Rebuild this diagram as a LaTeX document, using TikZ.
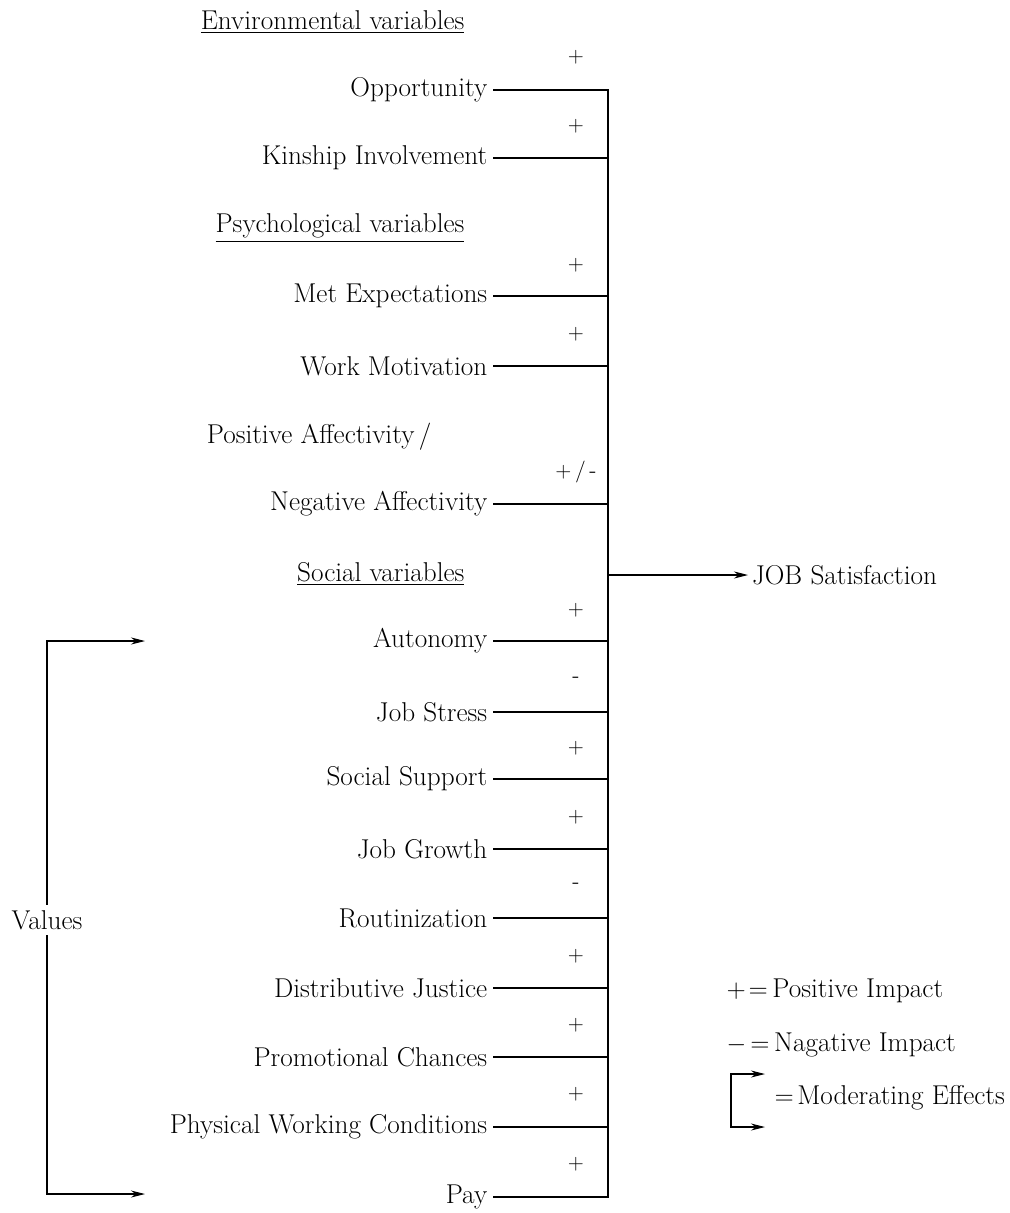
\documentclass[tikz,border=0pt]{standalone}
\usepackage{fontspec}
\usepackage{xcolor}
\usepackage{tikz}
\usetikzlibrary{arrows, arrows.meta}
\usetikzlibrary{positioning}
\tikzstyle{arrow} = [->,>={Stealth[length=8pt,width=4pt]}]
\tikzstyle{lbl} = [anchor=east, inner sep=3pt, font=\fontsize{15.5}{18}\selectfont]
\tikzstyle{head} = [anchor=east, inner sep=0pt, font=\fontsize{15.5}{18}\selectfont]
\tikzstyle{sign} = [inner sep=0pt, font=\fontsize{12.5}{14}\selectfont]

\begin{document}
\begin{tikzpicture}[x=0.02cm, y=-0.02cm, line width=0.6pt]
  \useasboundingbox (0,0) rectangle (1010,1213);
  % headings
  \node[head] (env) at (465,22) {\underline{Environmental variables}};
  \node[head] (psy) at (465,228) {\underline{Psychological variables}};
  \node[head] (soc) at (465,574) {\underline{Social variables}};
  % environmental
  \node[lbl] (opp) at (493,90) {Opportunity};
  \node[sign] (sopp) at (576,57) {$+$};
  \coordinate (jopp) at (608,90);
  \node[lbl] (kin) at (493,158) {Kinship Involvement};
  \node[sign] (skin) at (576,126) {$+$};
  \coordinate (jkin) at (608,158);
  % psychological
  \node[lbl] (met) at (493,296) {Met Expectations};
  \node[sign] (smet) at (576,265) {$+$};
  \coordinate (jmet) at (608,296);
  \node[lbl] (mot) at (493,366) {Work Motivation};
  \node[sign] (smot) at (576,334) {$+$};
  \coordinate (jmot) at (608,366);
  \node[head] (pos) at (432,437) {Positive Affectivity\,/};
  \node[lbl] (neg) at (493,504) {Negative Affectivity};
  \node[sign] (sneg) at (576,472) {$+$\,/\,-};
  \coordinate (jneg) at (608,504);
  % social
  \node[lbl] (aut) at (493,641) {Autonomy};
  \node[sign] (saut) at (576,610) {$+$};
  \coordinate (jaut) at (608,641);
  \node[lbl] (str) at (493,712) {Job Stress};
  \node[sign] (sstr) at (576,680) {-};
  \coordinate (jstr) at (608,712);
  \node[lbl] (sup) at (493,779) {Social Support};
  \node[sign] (ssup) at (576,748) {$+$};
  \coordinate (jsup) at (608,779);
  \node[lbl] (gro) at (493,849) {Job Growth};
  \node[sign] (sgro) at (576,817) {$+$};
  \coordinate (jgro) at (608,849);
  \node[lbl] (rou) at (493,918) {Routinization};
  \node[sign] (srou) at (576,886) {-};
  \coordinate (jrou) at (608,918);
  \node[lbl] (dis) at (493,988) {Distributive Justice};
  \node[sign] (sdis) at (576,956) {$+$};
  \coordinate (jdis) at (608,988);
  \node[lbl] (pro) at (493,1057) {Promotional Chances};
  \node[sign] (spro) at (576,1025) {$+$};
  \coordinate (jpro) at (608,1057);
  \node[lbl] (phy) at (493,1127) {Physical Working Conditions};
  \node[sign] (sphy) at (576,1094) {$+$};
  \coordinate (jphy) at (608,1127);
  \node[lbl] (pay) at (493,1197) {Pay};
  \node[sign] (spay) at (576,1164) {$+$};
  \coordinate (jpay) at (608,1197);
  % bus and rows
  \draw (opp) -- (jopp) -- (jpay) -- (pay);
  \draw (kin) -- (jkin);
  \draw (met) -- (jmet);
  \draw (mot) -- (jmot);
  \draw (neg) -- (jneg);
  \draw (aut) -- (jaut);
  \draw (str) -- (jstr);
  \draw (sup) -- (jsup);
  \draw (gro) -- (jgro);
  \draw (rou) -- (jrou);
  \draw (dis) -- (jdis);
  \draw (pro) -- (jpro);
  \draw (phy) -- (jphy);
  % outcome
  \coordinate (jjob) at (608,575);
  \node[lbl, anchor=west, inner sep=2pt] (job) at (748,575) {JOB Satisfaction};
  \draw[arrow] (jjob) -- (job);
  % values
  \node[lbl, anchor=center] (val) at (47,920) {Values};
  \coordinate (vtop) at (145,641);
  \coordinate (vbot) at (145,1194);
  \draw[arrow] (val.north) -- (val.north |- vtop) -- (vtop);
  \draw[arrow] (val.south) -- (val.south |- vbot) -- (vbot);
  % legend
  \node[lbl, anchor=west, inner sep=0pt] (lpos) at (726,991) {$+\!=$\,Positive Impact};
  \node[lbl, anchor=west, inner sep=0pt] (lneg) at (726,1045) {$-\,{=}$\,Nagative Impact};
  \coordinate (mtop) at (765,1074);
  \coordinate (mbot) at (765,1127);
  \coordinate (mc1) at (731,1074);
  \coordinate (mc2) at (731,1127);
  \draw[arrow, <->] (mtop) -- (mc1) -- (mc2) -- (mbot);
  \node[lbl, anchor=west, inner sep=0pt] (lmod) at (774,1098) {$=$\kern2pt Moderating Effects};
\end{tikzpicture}
\end{document}
